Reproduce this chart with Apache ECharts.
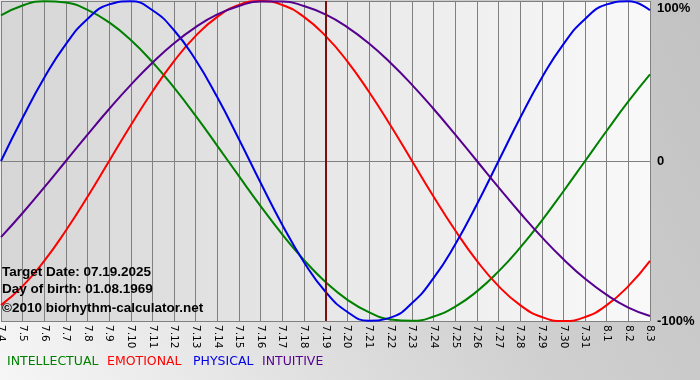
<!DOCTYPE html>
<html><head><meta charset="utf-8">
<script src="https://cdn.jsdelivr.net/npm/echarts@6/dist/echarts.min.js"></script>
<style>html,body{margin:0;padding:0;}#c{width:700px;height:380px;}</style>
</head><body><div id="c"></div>
<script>
const days = ['7.4','7.5','7.6','7.7','7.8','7.9','7.10','7.11','7.12','7.13','7.14','7.15','7.16','7.17','7.18','7.19','7.20','7.21','7.22','7.23','7.24','7.25','7.26','7.27','7.28','7.29','7.30','7.31','8.1','8.2','8.3'];
const intellectual = [91.0,97.2,99.9,99.0,94.5,86.6,75.6,61.8,45.8,28.2,9.5,-9.5,-28.2,-45.8,-61.8,-75.6,-86.6,-94.5,-99.0,-99.9,-97.2,-91.0,-81.5,-69.0,-54.1,-37.2,-18.9,0,18.9,37.2,54.1];
const emotional = [-90.1,-78.2,-62.4,-43.4,-22.3,0,22.3,43.4,62.4,78.2,90.1,97.5,100,97.5,90.1,78.2,62.4,43.4,22.3,0,-22.3,-43.4,-62.4,-78.2,-90.1,-97.5,-100,-97.5,-90.1,-78.2,-62.4];
const physical = [0,27.0,52.0,73.1,88.8,97.9,99.8,94.2,81.7,63.1,39.8,13.6,-13.6,-39.8,-63.1,-81.7,-94.2,-99.8,-97.9,-88.8,-73.1,-52.0,-27.0,0,27.0,52.0,73.1,88.8,97.9,99.8,94.2];
const intuitive = [-47.6,-32.5,-16.5,0,16.5,32.5,47.6,61.4,73.6,83.7,91.6,96.9,99.7,99.7,96.9,91.6,83.7,73.6,61.4,47.6,32.5,16.5,0,-16.5,-32.5,-47.6,-61.4,-73.6,-83.7,-91.6,-96.9];
const targetDay = '7.19';
const legendItems = [['INTELLECTUAL','#008000'],['EMOTIONAL','#ff0000'],['PHYSICAL','#0000e6'],['INTUITIVE','#55008f']];
const infoLines = ['Target Date: 07.19.2025','Day of birth: 01.08.1969','©2010 biorhythm-calculator.net'];

const chart = echarts.init(document.getElementById('c'));
const font = 'Liberation Sans, DejaVu Sans, sans-serif';
function mk(name, data, color){
  return {name, type:'line', data, smooth:true, symbol:'none', lineStyle:{color, width:2}, itemStyle:{color}};
}
const legendX = [7, 107, 193, 262];
const legendGraphics = legendItems.map((it,i)=>({type:'text', left:legendX[i], top:355, style:{text:it[0], fill:it[1], font:'12.5px DejaVu Sans, sans-serif'}}));
const infoGraphics = infoLines.map((t,i)=>({type:'text', left:2, top:[265,282,301][i], z:100, style:{text:t, fill:'#000', font:'bold 13.5px '+font}}));

const series = [
  mk('INTELLECTUAL', intellectual, '#008000'),
  mk('EMOTIONAL', emotional, '#ff0000'),
  mk('PHYSICAL', physical, '#0000e6'),
  mk('INTUITIVE', intuitive, '#55008f')
];
series[0].markLine = {silent:true, symbol:'none', label:{show:false}, lineStyle:{color:'#7a1010', width:2, type:'solid'}, data:[{xAxis:targetDay}]};

chart.setOption({
  animation:false,
  backgroundColor:{type:'linear', x:0, y:1, x2:1, y2:0, colorStops:[{offset:0,color:'#f6f6f6'},{offset:0.6,color:'#d0d0d0'},{offset:1,color:'#c2c2c2'}]},
  grid:{left:1, right:50, top:1, bottom:59, show:true, borderWidth:0, containLabel:false, outerBoundsMode:'none',
    backgroundColor:{type:'linear', x:0, y:0, x2:1, y2:0, colorStops:[{offset:0,color:'#d6d6d6'},{offset:1,color:'#f9f9f9'}]}},
  xAxis:{type:'category', data:days, boundaryGap:false,
    axisLine:{lineStyle:{color:'#808080', width:1}},
    axisTick:{show:true, length:4, lineStyle:{color:'#808080'}},
    axisLabel:{rotate:-90, fontSize:10.5, color:'#000', fontFamily:'DejaVu Sans', margin:4, interval:0},
    splitLine:{show:true, lineStyle:{color:'#808080', width:1}}},
  yAxis:{type:'value', position:'right', min:-100, max:100, interval:100,
    axisLine:{show:false}, axisTick:{show:false},
    axisLabel:{color:'#000', fontWeight:'bold', fontSize:13, fontFamily:font, margin:7,
      formatter:v=> v===100 ? '{top|100%}' : (v===0 ? '0' : v+'%'),
      rich:{top:{color:'#000', fontWeight:'bold', fontSize:13, fontFamily:font, padding:[14,0,0,0]}}},
    splitLine:{show:true, lineStyle:{color:'#808080', width:1}}},
  series,
  graphic: legendGraphics.concat(infoGraphics)
});
</script></body></html>
